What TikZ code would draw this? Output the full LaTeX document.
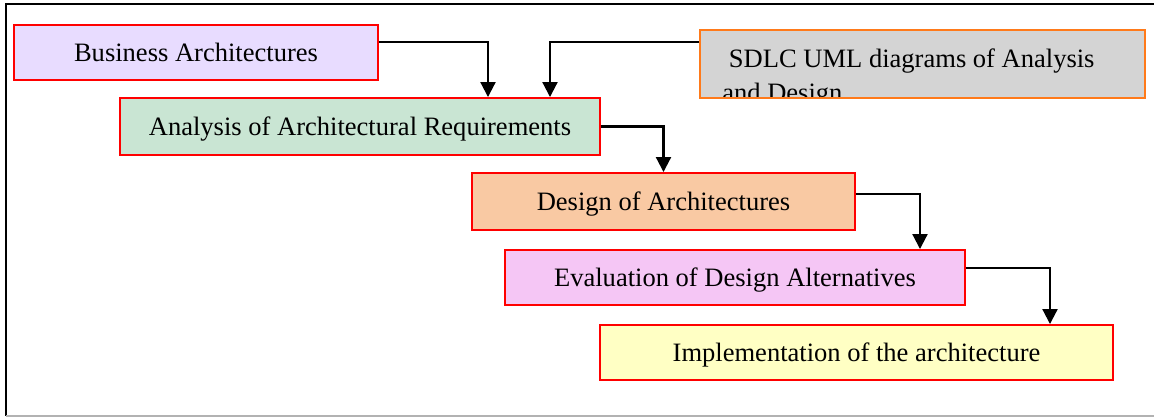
\documentclass[tikz,border=0pt]{standalone}
\usepackage{fontspec}
\setmainfont{Liberation Serif}
\usetikzlibrary{arrows.meta}

\definecolor{bizfill}{HTML}{E8DCFF}
\definecolor{anafill}{HTML}{C9E5D3}
\definecolor{desfill}{HTML}{F9C9A3}
\definecolor{evafill}{HTML}{F5C6F5}
\definecolor{impfill}{HTML}{FFFFC4}
\definecolor{umlfill}{HTML}{D4D4D4}
\definecolor{umlline}{HTML}{FF7A1A}

\begin{document}
\begin{tikzpicture}[x=0.2mm,y=-0.2mm,
  box/.style={draw=red,line width=1.1pt,inner sep=0pt,text height=10pt,text depth=0pt,
    font=\fontsize{15.1}{19.4}\selectfont},
  flow/.style={line width=1.2pt,-{Triangle[length=3mm,width=3mm]}}]
  \useasboundingbox (0,0) rectangle (1154,419);
  \draw[line width=1pt] (1154,4) -- (6,4) -- (6,416);
  \draw[gray!60,line width=1pt] (6,416) -- (1154,416);

  \node[box,fill=bizfill,minimum width=72.8mm,minimum height=11mm] (ba) at (196,52.5) {Business Architectures};
  \node[box,draw=umlline,fill=umlfill,minimum width=89mm,minimum height=13.6mm] (sdlc) at (922.5,64) {};
  \node[box,fill=anafill,minimum width=96mm,minimum height=11.4mm] (aar) at (360,126.5) {Analysis of Architectural Requirements};
  \node[box,fill=desfill,minimum width=76.6mm,minimum height=11.4mm] (da) at (663.5,201.5) {Design of Architectures};
  \node[box,fill=evafill,minimum width=92mm,minimum height=11mm] (eda) at (735,277.5) {Evaluation of Design Alternatives};
  \node[box,fill=impfill,minimum width=102.6mm,minimum height=11mm] (ia) at (856.5,352.5) {Implementation of the architecture};

  \begin{scope}
    \clip ([yshift=-1pt]sdlc.north west) rectangle ([yshift=1.6pt]sdlc.south east);
    \node[anchor=base west,inner sep=0pt,font=\fontsize{15.1}{19.4}\selectfont] (sdlc1) at (722,67) {\ SDLC UML diagrams of Analysis};
    \node[anchor=base west,inner sep=0pt,font=\fontsize{15.1}{19.4}\selectfont] (sdlc2) at (722,101) {and Design};
  \end{scope}

  \draw[flow] ([yshift=4.4mm]sdlc.west) -| ([xshift=38mm]aar.north);
  \foreach \from/\to/\up/\over in {ba/aar/2.1/25.6, aar/da/0/0, da/eda/1.5/37, eda/ia/1.9/38.7}
    \draw[flow] ([yshift=\up mm]\from.east) -| ([xshift=\over mm]\to.north);
\end{tikzpicture}
\end{document}
